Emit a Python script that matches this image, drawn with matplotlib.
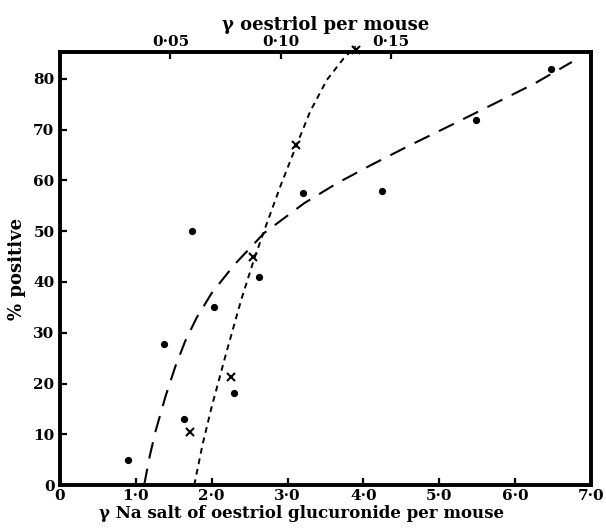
import matplotlib
matplotlib.use("Agg")
import matplotlib.pyplot as plt

# ---- data ----
# Na salt of oestriol glucuronide (dots)
gluc_x = [0.90, 1.37, 1.63, 1.74, 2.03, 2.30, 2.62, 3.21, 4.24, 5.48, 6.48]
gluc_y = [5.0, 27.7, 13.1, 50.0, 35.1, 18.2, 40.9, 57.5, 58.0, 71.9, 82.0]
# oestriol (crosses), expressed on the bottom scale
oest_x = [1.72, 2.26, 2.54, 3.11, 3.90]
oest_y = [10.4, 21.3, 45.0, 67.0, 85.6]

# hand-drawn fitted curves (read points)
gcurve_x = [1.11, 1.18, 1.26, 1.39, 1.52, 1.65, 1.80, 2.00, 2.30, 2.69, 3.22, 3.65, 4.10, 4.60, 5.08, 5.74, 6.25, 6.75]
gcurve_y = [0.0, 5.5, 10.6, 17.4, 23.3, 28.3, 32.9, 37.8, 43.4, 49.6, 55.5, 59.4, 63.0, 66.8, 70.3, 75.2, 79.0, 83.3]
ocurve_x = [1.77, 1.88, 2.00, 2.19, 2.39, 2.56, 2.69, 2.91, 3.11, 3.30, 3.52, 3.74, 3.90]
ocurve_y = [0.0, 8.0, 15.4, 25.9, 36.5, 44.5, 50.0, 59.0, 66.6, 73.6, 79.8, 84.0, 86.4]

bottom_ticks = [0, 1, 2, 3, 4, 5, 6, 7]
bottom_labels = ["0", "1·0", "2·0", "3·0", "4·0", "5·0", "6·0", "7·0"]
top_ticks = [0.05, 0.10, 0.15]
top_labels = ["0·05", "0·10", "0·15"]
y_ticks = [0, 10, 20, 30, 40, 50, 60, 70, 80]
ratio = 29.1  # bottom units per top unit

plt.rcParams['font.family'] = ['DejaVu Serif']

fig = plt.figure(figsize=(6.06, 5.29), dpi=100)
ax = fig.add_axes([0.099, 0.083, 0.876, 0.819])

ax.plot(gcurve_x, gcurve_y, color='black', lw=1.5, dashes=(8, 5))
ax.plot(ocurve_x, ocurve_y, color='black', lw=1.4, dashes=(3, 2.5), clip_on=False)
ax.plot(gluc_x, gluc_y, 'o', color='black', ms=4.2, ls='none')
ax.plot(oest_x, oest_y, 'x', color='black', ms=5.5, mew=1.5, ls='none', clip_on=False)

ax.set_xlim(0, 7)
ax.set_ylim(0, 85.3)

for s in ax.spines.values():
    s.set_linewidth(2.8)

ax.set_xticks(bottom_ticks)
ax.set_xticklabels(bottom_labels, fontsize=11, fontweight='semibold')
ax.set_yticks(y_ticks)
ax.set_yticklabels([str(v) for v in y_ticks], fontsize=11, fontweight='semibold')
ax.tick_params(direction='in', length=5, width=1.6)
ax.tick_params(axis='x', pad=3)
ax.tick_params(axis='y', pad=4)

sec = ax.secondary_xaxis('top', functions=(lambda u: u / ratio, lambda t: t * ratio))
sec.set_xticks(top_ticks)
sec.set_xticklabels(top_labels, fontsize=11, fontweight='semibold')
sec.tick_params(direction='in', length=5, width=1.6, pad=2)
sec.set_xlabel("γ oestriol per mouse", fontsize=13, fontweight='bold', labelpad=4)

ax.set_xlabel("γ Na salt of oestriol glucuronide per mouse", fontsize=12,
              fontweight='bold', labelpad=0)
ax.xaxis.set_label_coords(0.455, -0.047)
ax.set_ylabel("% positive", fontsize=13, fontweight='bold', labelpad=5)

fig.savefig("out.png", dpi=100)
